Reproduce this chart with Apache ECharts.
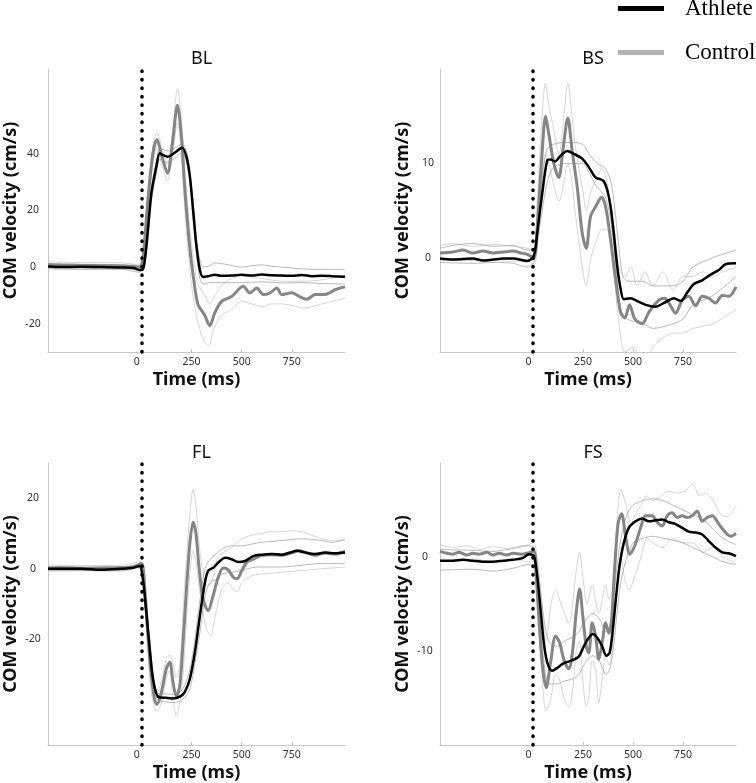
<!DOCTYPE html>
<html>
<head>
<meta charset="utf-8">
<script src="https://cdn.jsdelivr.net/npm/echarts@6/dist/echarts.min.js"></script>
<style>
html,body{margin:0;padding:0;background:#fff;}
#chart{width:756px;height:783px;}
</style>
</head>
<body>
<div id="chart"></div>
<script>
// ---------- tick labels ----------
const xTickValues = [0, 250, 500, 750];
const BL_yTicks = [-20, 0, 20, 40];
const BS_yTicks = [0, 10];
const FL_yTicks = [-20, 0, 20];
const FS_yTicks = [-10, 0];
const panelTitles = ['BL', 'BS', 'FL', 'FS'];

// ---------- data: [time (ms), COM velocity (cm/s)] ----------
// BL
const BL_athlete = [[-465,0.2],[-400,0.0],[-300,0.1],[-200,0.0],[-100,-0.1],[-40,-0.3],[-10,-1.0],[8,-0.8],[25,7.3],[50,26],[75,35.5],[92,40.2],[110,39.5],[133,39],[166,40.4],[203,42.2],[225,39],[242,32],[258,20.2],[275,7.3],[292,-1],[308,-3.5],[340,-3.1],[366,-2.7],[400,-3.1],[450,-3.0],[500,-2.7],[550,-3.0],[600,-2.6],[650,-2.9],[700,-3.0],[750,-3.1],[800,-2.8],[850,-3.2],[900,-3.1],[950,-3.2],[1015,-3.4]];
const BL_control = [[-465,0.8],[-400,0.7],[-300,0.6],[-200,0.5],[-100,0.4],[-40,0.3],[-10,0],[5,2],[17,9.6],[33,23.7],[58,40.2],[78,45.1],[103,39],[130,33.2],[155,43.7],[180,57.2],[200,46],[216,28.4],[241,7.3],[266,-6.8],[283,-13.3],[316,-17],[341,-20.7],[366,-16.2],[400,-12.1],[450,-10.4],[508,-6.8],[541,-9.1],[575,-7.4],[608,-9.7],[641,-9.1],[675,-7.4],[700,-9.7],[750,-9.1],[791,-10.5],[825,-11.4],[866,-9.7],[916,-9.7],[966,-8.0],[1015,-7.0]];
const BL_athleteUpper = [[-465,1.2],[-300,1.0],[-100,0.8],[-10,0],[25,9],[50,28],[75,37.5],[92,42],[133,41],[166,42],[203,43.5],[225,41],[242,34],[258,23],[275,10],[292,2.5],[310,0],[340,0.5],[366,1.5],[420,1],[500,0],[550,0.5],[600,0.8],[650,0.3],[700,0],[800,-0.6],[900,-0.8],[1015,-0.8]];
const BL_athleteLower = [[-465,-0.6],[-300,-0.8],[-100,-0.8],[-10,-1.8],[25,5],[50,23],[75,33],[92,38],[133,37],[166,38.5],[203,40.5],[225,37],[242,30],[258,17],[275,4],[292,-4],[310,-6],[340,-5.5],[400,-5.5],[500,-5.5],[600,-5.2],[700,-5.6],[800,-5.5],[900,-5.8],[1015,-6]];
const BL_controlUpper = [[-465,1.8],[-300,1.6],[-100,1.5],[-10,0.8],[17,12],[33,27],[58,43],[78,47.5],[103,42],[130,36],[155,48],[180,63],[200,52],[216,35],[241,14],[266,0],[283,-6],[316,-10],[341,-13],[366,-10],[400,-6.5],[450,-4],[500,-3],[550,-3.5],[600,-4],[700,-5],[800,-5],[900,-4.5],[1015,-3]];
const BL_controlLower = [[-465,-0.3],[-300,-0.4],[-100,-0.6],[-10,-1],[17,7],[33,20],[58,37],[78,42],[103,36],[130,30.5],[155,39],[180,51],[200,40],[216,21],[241,0],[266,-14],[300,-24],[335,-28],[360,-22],[400,-17],[450,-15],[500,-12],[550,-13],[600,-14],[650,-13],[700,-13],[750,-13.5],[810,-14.5],[850,-14],[900,-13],[1015,-11]];
// BS
const BS_athlete = [[-465,-0.1],[-400,-0.2],[-300,-0.1],[-250,-0.3],[-200,-0.2],[-150,-0.1],[-100,-0.1],[-29,-0.35],[4,0.2],[21,2.6],[46,6.8],[71,10.3],[88,10.4],[109,10.2],[138,10.8],[171,11.3],[204,11],[246,10.5],[279,9.6],[312,8.5],[338,8.3],[354,8.1],[371,7.2],[388,5.4],[404,2.6],[421,-0.9],[438,-3.3],[454,-4.4],[488,-4.3],[521,-4.6],[563,-5.0],[613,-5.2],[663,-4.7],[704,-4.3],[738,-4.6],[771,-3.7],[804,-2.8],[846,-2.4],[888,-1.8],[929,-1.3],[963,-0.7],[1015,-0.6]];
const BS_control = [[-465,0.5],[-400,0.6],[-350,0.8],[-300,0.5],[-250,0.7],[-200,0.5],[-150,0.6],[-100,0.7],[-60,0.5],[-29,0.35],[4,0],[21,3.2],[43,10.3],[63,15],[79,13.1],[104,10],[129,8.5],[150,11.5],[174,14.8],[196,11.3],[221,7.5],[246,2.6],[266,1.0],[288,4.4],[313,5.4],[343,6.4],[363,5.4],[388,1.9],[413,-2.3],[438,-5.8],[459,-6.4],[483,-5.0],[509,-6.5],[546,-7.0],[579,-5.8],[629,-4.5],[659,-4.3],[688,-5.1],[713,-5.9],[746,-4.5],[779,-4.1],[813,-5.1],[846,-4.1],[879,-4.3],[913,-4.8],[946,-4.0],[979,-4.1],[1015,-3.1]];
const BS_athleteUpper = [[-465,1.0],[-400,1.3],[-300,1.5],[-200,1.2],[-100,1.3],[-30,0.8],[4,0.8],[21,4],[46,8.5],[71,11.5],[100,12],[150,12.2],[200,12.2],[250,12],[280,11],[320,10],[360,9.5],[390,8],[410,5],[430,1],[450,-2],[480,-2.5],[550,-2.5],[600,-3],[700,-3],[750,-2.5],[800,-1],[900,0],[1015,0.8]];
const BS_athleteLower = [[-465,-0.5],[-300,-0.6],[-200,-0.5],[-100,-0.6],[-30,-1],[4,-0.5],[21,1.5],[46,5],[71,8],[100,9.5],[150,10],[200,10],[250,10],[280,9],[320,7.5],[360,6.5],[380,5],[400,2],[420,-2],[440,-5.5],[470,-6.5],[550,-7],[600,-7.5],[700,-7],[750,-6.5],[800,-5],[900,-4],[1015,-2]];
const BS_controlUpper = [[-465,1.3],[-400,1.5],[-300,1.2],[-200,1.4],[-100,1.2],[-30,1],[4,0.8],[21,6],[43,14],[62,18.5],[80,16],[100,14],[130,11],[150,14],[174,18.5],[195,15],[210,12],[250,7],[266,5],[290,7],[320,8.5],[345,9.5],[370,8],[400,4],[430,-1],[460,-2],[490,-1],[520,-3],[560,-1.5],[600,-3],[650,-1.5],[700,-3.5],[750,-2],[800,-2],[850,-1.5],[900,-2],[950,-1.5],[1015,-1]];
const BS_controlLower = [[-465,-0.3],[-300,-0.3],[-200,-0.2],[-100,-0.4],[-30,-0.3],[4,-0.8],[21,1],[43,7],[62,11],[80,10],[100,8],[130,6],[150,7.5],[174,10],[195,8],[210,5],[250,-1.5],[266,-3],[290,0],[320,2],[345,3],[370,3],[400,-1],[430,-7],[460,-10],[500,-9.5],[530,-10.5],[560,-11],[600,-9.5],[650,-8.5],[700,-8],[750,-8],[800,-7.5],[900,-7],[1015,-5.5]];
// FL
const FL_athlete = [[-465,0],[-400,0],[-300,0],[-200,-0.3],[-100,0],[-40,0.3],[-9,0.8],[8,-3],[25,-12.4],[42,-22.7],[58,-31.2],[83,-36.3],[117,-36.6],[158,-36.8],[192,-36.3],[217,-34.9],[242,-31.2],[267,-23.7],[292,-13.3],[317,-3.9],[333,-0.6],[358,0.3],[392,2.2],[417,3.1],[450,2.7],[483,1.9],[517,2.2],[558,3.6],[600,4.0],[650,4.2],[700,4.0],[742,4.6],[775,5.1],[817,4.6],[867,4.2],[917,4.6],[967,4.4],[1015,4.6]];
const FL_control = [[-465,0.2],[-400,0.3],[-300,0.1],[-200,0.2],[-100,0.3],[-40,0.5],[0,1.5],[17,-5.8],[33,-19],[50,-30.2],[67,-37.3],[78,-38.5],[100,-35],[125,-28.3],[142,-26.5],[158,-32.2],[175,-36.3],[192,-33],[208,-20.8],[225,-5.8],[242,7.3],[258,13.2],[272,10.1],[287,0.8],[308,-8.6],[333,-11.9],[358,-7.6],[383,-2.5],[408,0.2],[433,-0.3],[458,-2.4],[478,-2.8],[500,-0.6],[525,1.8],[558,2.7],[600,3.8],[650,4.0],[700,3.8],[750,4.5],[783,5.1],[825,4.5],[866,3.8],[916,4.5],[966,4.2],[1015,4.9]];
const FL_athleteUpper = [[-465,0.5],[-300,0.5],[-100,0.6],[-9,1.2],[8,-2],[25,-10.5],[42,-20.5],[58,-29.5],[83,-35.3],[117,-35.5],[158,-35.6],[192,-35],[217,-33],[242,-28.5],[267,-20],[292,-9],[317,0],[340,2.5],[370,4],[400,5.5],[450,6.5],[500,6.5],[550,7],[600,7.5],[700,8],[800,8.5],[900,8],[950,7.5],[1015,8.3]];
const FL_athleteLower = [[-465,-0.5],[-300,-0.5],[-100,-0.6],[-9,0.3],[8,-4],[25,-14],[42,-25],[58,-33],[83,-37.3],[117,-37.7],[158,-38],[192,-37.6],[217,-36.5],[242,-34],[267,-27],[292,-18],[317,-8],[340,-4],[370,-3],[400,-1.5],[450,-1],[500,-0.5],[550,0.3],[600,0.5],[700,0.5],[800,1],[900,1.5],[1015,1.5]];
const FL_controlUpper = [[-465,1],[-300,0.9],[-100,1],[0,2],[17,-2],[33,-13],[50,-25],[67,-33],[78,-35],[100,-32],[125,-25.5],[142,-24.5],[158,-27],[175,-31],[192,-27],[208,-12],[225,3],[241,15],[258,22.5],[272,18],[290,6],[310,-2],[333,-5],[360,-2],[380,3],[420,5],[450,6],[500,8.5],[550,9.5],[600,10],[650,10.5],[700,10.5],[750,10.8],[800,10.5],[850,9.5],[900,8.5],[950,8],[1015,8.3]];
const FL_controlLower = [[-465,-0.7],[-300,-0.6],[-100,-0.5],[0,1],[17,-9],[33,-25],[50,-35],[67,-39.5],[78,-40.5],[100,-38],[125,-31],[142,-29],[158,-37],[175,-41.8],[192,-38],[208,-30],[225,-15],[241,-2],[258,5],[272,2],[290,-6],[320,-16],[345,-19],[370,-13],[400,-6],[430,-4],[460,-6],[480,-6.5],[500,-4],[550,-2],[600,-1.5],[700,-1],[800,-0.5],[900,0],[1015,0.5]];
// FS
const FS_athlete = [[-465,-0.4],[-400,-0.4],[-350,-0.3],[-300,-0.4],[-250,-0.5],[-200,-0.5],[-150,-0.4],[-100,-0.3],[-50,-0.1],[-21,0.3],[4,0.1],[21,-2.0],[38,-5.6],[54,-9.1],[71,-11.2],[96,-12.1],[121,-11.8],[154,-11.3],[196,-11.0],[229,-10.6],[254,-9.5],[279,-8.6],[299,-8.2],[321,-8.6],[346,-9.5],[366,-10.5],[383,-10.2],[399,-7.7],[416,-4.1],[433,-0.9],[454,1.5],[479,3.1],[513,3.8],[546,4.1],[579,3.8],[613,3.9],[646,4.0],[679,3.7],[713,3.5],[746,3.1],[779,2.7],[813,2.6],[846,2.4],[879,1.7],[913,1.0],[946,0.5],[979,0.4],[1015,0.1]];
const FS_control = [[-465,0.6],[-430,0.4],[-400,0.3],[-370,0.5],[-330,0.2],[-300,0.4],[-270,0.3],[-230,0.5],[-200,0.2],[-170,0.4],[-130,0.2],[-100,0.4],[-60,0.3],[-30,0.4],[4,0.6],[16,-2.0],[33,-7.7],[49,-11.9],[66,-13.9],[88,-11.2],[113,-8.4],[133,-9.1],[154,-10.9],[179,-11.9],[199,-9.8],[216,-5.9],[233,-3.4],[249,-6.3],[266,-9.5],[279,-10.2],[296,-7.0],[313,-8.4],[329,-10.9],[346,-9.1],[363,-7.0],[379,-8.1],[393,-6.6],[409,-0.9],[426,3.6],[443,4.6],[463,2.2],[484,0.3],[509,1.2],[538,3.1],[563,4.4],[596,4.4],[621,3.7],[646,3.3],[671,4.4],[696,4.7],[721,4.2],[746,4.4],[771,4.2],[796,4.4],[821,4.9],[846,3.8],[871,4.2],[896,4.4],[929,3.5],[963,2.6],[988,2.2],[1015,2.5]];
const FS_athleteUpper = [[-465,0.8],[-300,0.7],[-200,0.6],[-100,0.9],[-21,1.2],[4,1],[21,-0.5],[54,-6.5],[80,-9],[121,-9.5],[154,-9],[196,-8.5],[229,-8],[254,-7],[299,-6],[330,-6.5],[366,-8],[383,-7.5],[400,-5],[420,-1],[440,2],[470,4.5],[500,5.5],[550,6],[600,6.2],[650,6],[700,5.5],[750,5],[800,4.5],[850,4],[900,3],[950,2],[1015,1.3]];
const FS_athleteLower = [[-465,-1.4],[-300,-1.3],[-200,-1.5],[-100,-1.2],[-21,-0.8],[4,-1],[21,-3.5],[54,-11],[80,-13.5],[121,-13.5],[154,-13.2],[196,-13],[229,-12.5],[254,-11.5],[299,-10.5],[330,-11],[366,-12.5],[383,-12],[400,-10],[420,-6],[440,-2.5],[470,0],[500,1.5],[550,2],[600,2.2],[650,2],[700,1.8],[750,1.5],[800,1],[850,0.5],[900,0],[950,-0.5],[1015,-0.8]];
const FS_controlUpper = [[-465,1.3],[-400,1],[-330,1.2],[-270,0.8],[-200,1.1],[-130,0.9],[-60,1.2],[-20,1.3],[4,1.5],[20,0],[40,-4],[66,-9],[90,-5],[112,-3.5],[140,-5],[179,-7],[216,-1.5],[232,0.5],[249,-2],[270,-5],[296,-3],[312,-4.5],[330,-6],[346,-4.5],[362,-3],[380,-4.5],[400,-3],[420,4],[440,7.2],[465,5.5],[490,3.5],[510,4.5],[540,5.5],[570,6.5],[600,6],[640,6.5],[680,7],[720,6.8],[760,7],[800,7.8],[830,6.5],[860,6.8],[900,6],[940,4.5],[970,4.3],[1015,5.5]];
const FS_controlLower = [[-465,-0.3],[-400,-0.5],[-300,-0.2],[-200,-0.5],[-100,-0.3],[-20,-0.5],[4,-0.5],[20,-4],[40,-11],[66,-16.4],[90,-15],[112,-12.5],[132,-13],[154,-15],[179,-16],[199,-14],[216,-10],[232,-9],[249,-13],[266,-15.9],[279,-15],[296,-11],[312,-12],[329,-15.5],[346,-13],[362,-10.5],[380,-11.5],[400,-9],[420,-3],[440,0],[460,-2.5],[480,-3.5],[510,-2],[540,0],[570,2],[600,1.5],[650,1],[700,2],[750,1.5],[800,1.5],[850,0.5],[900,1],[950,0],[1015,-0.6]];

// ---------- build ----------
const panelData = [
  {title: panelTitles[0], yMin: -30, yMax: 70, yTicks: BL_yTicks, ath: BL_athlete, ctl: BL_control, aU: BL_athleteUpper, aL: BL_athleteLower, cU: BL_controlUpper, cL: BL_controlLower},
  {title: panelTitles[1], yMin: -10, yMax: 20, yTicks: BS_yTicks, ath: BS_athlete, ctl: BS_control, aU: BS_athleteUpper, aL: BS_athleteLower, cU: BS_controlUpper, cL: BS_controlLower},
  {title: panelTitles[2], yMin: -50, yMax: 30, yTicks: FL_yTicks, ath: FL_athlete, ctl: FL_control, aU: FL_athleteUpper, aL: FL_athleteLower, cU: FL_controlUpper, cL: FL_controlLower},
  {title: panelTitles[3], yMin: -20, yMax: 10, yTicks: FS_yTicks, ath: FS_athlete, ctl: FS_control, aU: FS_athleteUpper, aL: FS_athleteLower, cU: FS_controlUpper, cL: FS_controlLower}
];

const layout = [
  {left: 48, top: 69, width: 297, height: 283, labelMargin: 15},
  {left: 440, top: 69, width: 296, height: 283, labelMargin: 12},
  {left: 48, top: 463, width: 297, height: 282, labelMargin: 15},
  {left: 440, top: 463, width: 296, height: 282, labelMargin: 15}
];

const FONT = "'Noto Sans', 'DejaVu Sans', sans-serif";
const axisLineStyle = {color: '#c8c8c8', width: 1};

const grids = [], xAxes = [], yAxes = [], titles = [], series = [];

panelData.forEach((p, i) => {
  const L = layout[i];
  grids.push({left: L.left, top: L.top, width: L.width, height: L.height, containLabel: false});
  titles.push({
    text: p.title, left: L.left + L.width / 2, top: L.top - 24, textAlign: 'center',
    textStyle: {fontFamily: FONT, fontSize: 18, fontWeight: 'normal', color: '#111'}
  });
  xAxes.push({
    type: 'value', gridIndex: i, min: -465, max: 1015,
    name: 'Time (ms)', nameLocation: 'middle', nameGap: 19,
    nameTextStyle: {fontFamily: FONT, fontSize: 18, fontWeight: 'bold', color: '#111'},
    axisLine: {show: true, onZero: false, lineStyle: axisLineStyle},
    axisTick: {show: true, inside: true, length: 3, customValues: [250, 500, 750], lineStyle: axisLineStyle},
    splitLine: {show: false},
    axisLabel: {
      customValues: xTickValues, margin: 5, fontFamily: FONT, fontSize: 10.5, color: '#333',
      formatter: v => v === 0 ? '{z|0}' : String(v),
      rich: {z: {fontFamily: FONT, fontSize: 10.5, color: '#333', padding: [0, 9, 0, 0]}}
    }
  });
  yAxes.push({
    type: 'value', gridIndex: i, min: p.yMin, max: p.yMax,
    name: 'COM velocity (cm/s)', nameLocation: 'middle', nameGap: 28,
    nameTextStyle: {fontFamily: FONT, fontSize: 18, fontWeight: 'bold', color: '#111'},
    axisLine: {show: true, onZero: false, lineStyle: axisLineStyle},
    axisTick: {show: false},
    splitLine: {show: false},
    axisLabel: {customValues: p.yTicks, margin: L.labelMargin, align: 'center', fontFamily: FONT, fontSize: 10.5, color: '#333'}
  });
  const sd = (data, color) => ({
    type: 'line', xAxisIndex: i, yAxisIndex: i, data: data, showSymbol: false, symbol: 'none',
    smooth: 0.3, silent: true, z: 1, lineStyle: {width: 0.8, color: color}, itemStyle: {color: color}
  });
  series.push(sd(p.cU, '#cbcbcb'));
  series.push(sd(p.cL, '#cbcbcb'));
  series.push(sd(p.aU, '#a8a8a8'));
  series.push(sd(p.aL, '#a8a8a8'));
  series.push({
    name: 'Control', type: 'line', xAxisIndex: i, yAxisIndex: i, data: p.ctl, showSymbol: false, symbol: 'none',
    smooth: 0.3, z: 2, lineStyle: {width: 3, color: '#858585'}, itemStyle: {color: '#858585'}
  });
  series.push({
    name: 'Athlete', type: 'line', xAxisIndex: i, yAxisIndex: i, data: p.ath, showSymbol: false, symbol: 'none',
    smooth: 0.3, z: 3, lineStyle: {width: 2.5, color: '#000'}, itemStyle: {color: '#000'},
    markLine: {
      silent: true, symbol: ['none', 'none'], label: {show: false},
      lineStyle: {type: [0.5, 8], width: 3.5, color: '#000', cap: 'round'},
      data: [{xAxis: 0}]
    }
  });
});

const chart = echarts.init(document.getElementById('chart'), null, {renderer: 'canvas'});
chart.setOption({
  animation: false,
  backgroundColor: '#fff',
  title: titles,
  legend: {
    orient: 'vertical', left: 613, top: -8, itemGap: 21,
    icon: 'rect', itemWidth: 46, itemHeight: 5,
    textStyle: {fontFamily: "'Liberation Serif', 'Times New Roman', serif", fontSize: 23, color: '#000', padding: [0, 0, 0, 16]},
    data: [
      {name: 'Athlete', itemStyle: {color: '#000'}},
      {name: 'Control', itemStyle: {color: '#b3b3b3'}}
    ]
  },
  grid: grids,
  xAxis: xAxes,
  yAxis: yAxes,
  series: series
});
</script>
</body>
</html>
